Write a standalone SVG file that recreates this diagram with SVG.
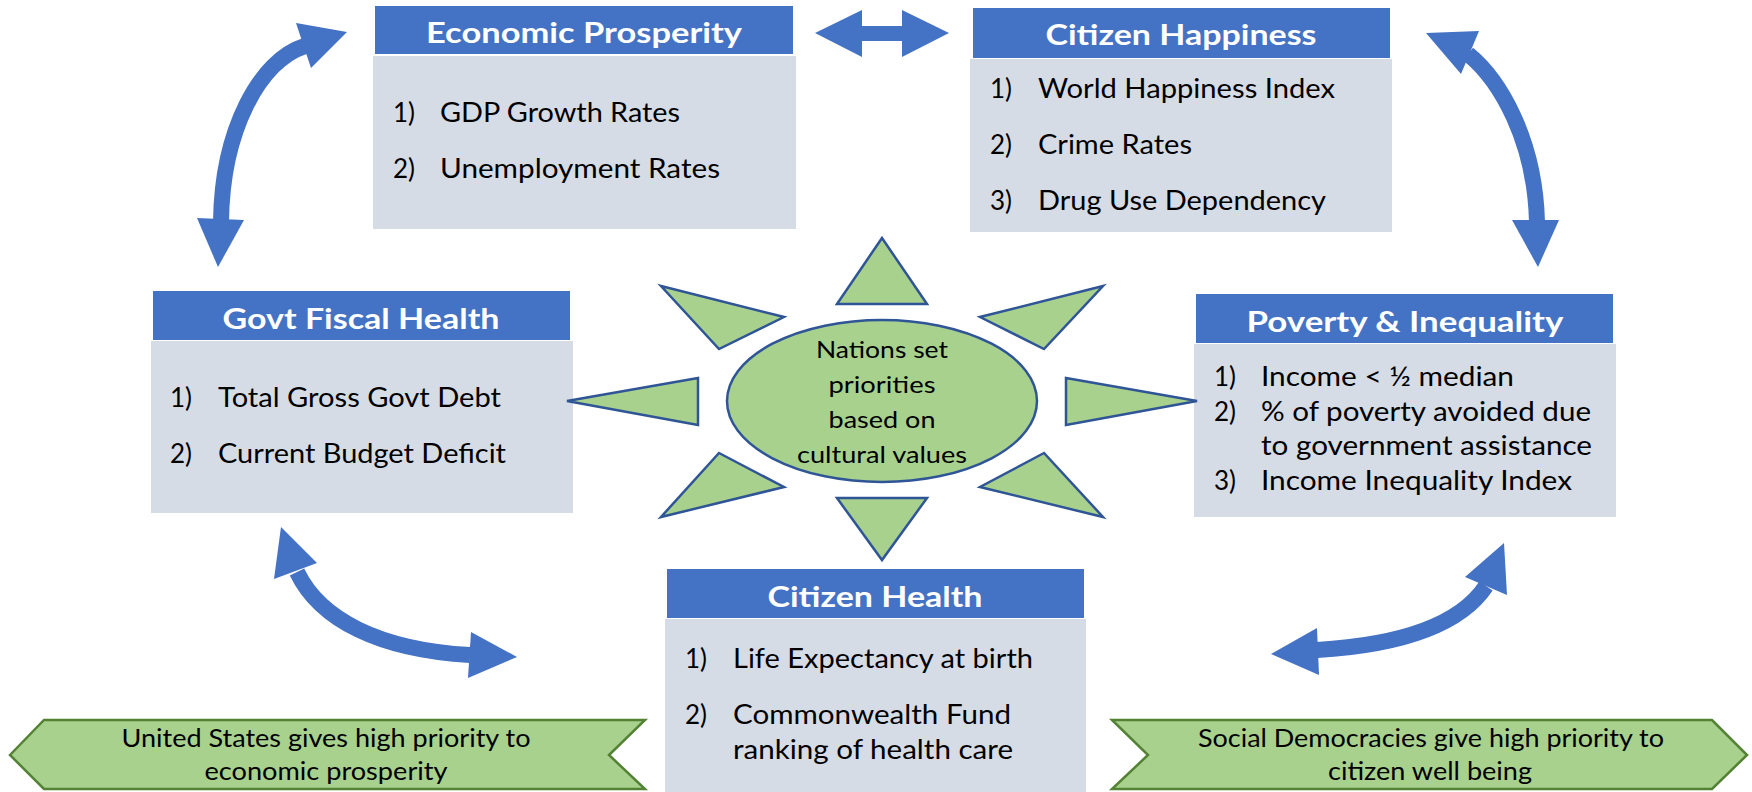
<svg xmlns="http://www.w3.org/2000/svg" width="1752" height="792" viewBox="0 0 1752 792">
<style>
.hdr{fill:#4472C4}
.body{fill:#D6DCE5}
.ht{font-family:Lato,"Liberation Sans",sans-serif;font-weight:bold;font-size:28px;fill:#fff;text-anchor:middle}
.it{font-family:Lato,"Liberation Sans",sans-serif;font-size:26px;fill:#000}
.ct{font-family:Lato,"Liberation Sans",sans-serif;font-size:24px;fill:#000;text-anchor:middle}
.bt{font-family:Lato,"Liberation Sans",sans-serif;font-size:25px;fill:#000;text-anchor:middle}
.ray{fill:#A9D18E;stroke:#2F5597;stroke-width:2.5;stroke-linejoin:miter}
.ban{fill:#A9D18E;stroke:#548235;stroke-width:2.5}
.shaft{fill:none;stroke:#4472C4;stroke-width:16}
.head{fill:#4472C4}
</style>
<rect width="1752" height="792" fill="#fff"/>

<g id="connectors">
  <polygon class="head" points="815,33 862,10 862,26 902,26 902,10 949,33 902,57 902,41 862,41 862,57"/>
  <path class="shaft" d="M305,46 C260,60 222,130 221,222"/>
  <polygon class="head" points="347,32 296,23 311,68"/>
  <polygon class="head" points="197,218 244,220 218,267"/>
  <path class="shaft" d="M1468,54 C1500,80 1535,140 1537,222"/>
  <polygon class="head" points="1426,33 1479,31 1461,74"/>
  <polygon class="head" points="1512,220 1559,220 1538,267"/>
  <path class="shaft" d="M297,572 C320,620 380,650 470,655"/>
  <polygon class="head" points="281,527 274,579 317,563"/>
  <polygon class="head" points="471,632 468,678 517,657"/>
  <path class="shaft" d="M1486,586 C1460,625 1400,645 1317,650"/>
  <polygon class="head" points="1504,543 1465,577 1507,595"/>
  <polygon class="head" points="1317,628 1319,675 1271,654"/>
</g>

<g id="economic-prosperity">
  <rect class="hdr" x="375" y="6" width="418" height="48"/>
  <rect class="body" x="373" y="56" width="423" height="173"/>
  <text class="ht" x="584" y="43" textLength="316" lengthAdjust="spacingAndGlyphs">Economic Prosperity</text>
  <text class="it" x="393" y="122">1)</text>
  <text class="it" x="440" y="122" textLength="240" lengthAdjust="spacingAndGlyphs">GDP Growth Rates</text>
  <text class="it" x="393" y="178">2)</text>
  <text class="it" x="440" y="178" textLength="280" lengthAdjust="spacingAndGlyphs">Unemployment Rates</text>
</g>

<g id="citizen-happiness">
  <rect class="hdr" x="973" y="8" width="417" height="50"/>
  <rect class="body" x="970" y="59" width="422" height="173"/>
  <text class="ht" x="1181" y="45" textLength="271" lengthAdjust="spacingAndGlyphs">Citizen Happiness</text>
  <text class="it" x="990" y="98">1)</text>
  <text class="it" x="1038" y="98" textLength="297" lengthAdjust="spacingAndGlyphs">World Happiness Index</text>
  <text class="it" x="990" y="154">2)</text>
  <text class="it" x="1038" y="154" textLength="154" lengthAdjust="spacingAndGlyphs">Crime Rates</text>
  <text class="it" x="990" y="210">3)</text>
  <text class="it" x="1038" y="210" textLength="288" lengthAdjust="spacingAndGlyphs">Drug Use Dependency</text>
</g>

<g id="govt-fiscal-health">
  <rect class="hdr" x="153" y="291" width="417" height="49"/>
  <rect class="body" x="151" y="341" width="422" height="172"/>
  <text class="ht" x="361" y="329" textLength="277" lengthAdjust="spacingAndGlyphs">Govt Fiscal Health</text>
  <text class="it" x="170" y="407">1)</text>
  <text class="it" x="218" y="407" textLength="283" lengthAdjust="spacingAndGlyphs">Total Gross Govt Debt</text>
  <text class="it" x="170" y="463">2)</text>
  <text class="it" x="218" y="463" textLength="288" lengthAdjust="spacingAndGlyphs">Current Budget Deficit</text>
</g>

<g id="poverty-inequality">
  <rect class="hdr" x="1196" y="294" width="417" height="49"/>
  <rect class="body" x="1194" y="344" width="422" height="173"/>
  <text class="ht" x="1405" y="332" textLength="317" lengthAdjust="spacingAndGlyphs">Poverty &amp; Inequality</text>
  <text class="it" x="1214" y="386">1)</text>
  <text class="it" x="1261" y="386" textLength="253" lengthAdjust="spacingAndGlyphs">Income &lt; ½ median</text>
  <text class="it" x="1214" y="421">2)</text>
  <text class="it" x="1261" y="421" textLength="330" lengthAdjust="spacingAndGlyphs">% of poverty avoided due</text>
  <text class="it" x="1261" y="455" textLength="331" lengthAdjust="spacingAndGlyphs">to government assistance</text>
  <text class="it" x="1214" y="490">3)</text>
  <text class="it" x="1261" y="490" textLength="311" lengthAdjust="spacingAndGlyphs">Income Inequality Index</text>
</g>

<g id="citizen-health">
  <rect class="hdr" x="667" y="569" width="417" height="49"/>
  <rect class="body" x="665" y="619" width="421" height="173"/>
  <text class="ht" x="875" y="607" textLength="215" lengthAdjust="spacingAndGlyphs">Citizen Health</text>
  <text class="it" x="685" y="668">1)</text>
  <text class="it" x="733" y="668" textLength="300" lengthAdjust="spacingAndGlyphs">Life Expectancy at birth</text>
  <text class="it" x="685" y="724">2)</text>
  <text class="it" x="733" y="724" textLength="278" lengthAdjust="spacingAndGlyphs">Commonwealth Fund</text>
  <text class="it" x="733" y="759" textLength="280" lengthAdjust="spacingAndGlyphs">ranking of health care</text>
</g>

<g id="nations-priorities">
  <polygon class="ray" points="882,238 837,304 927,304"/>
  <polygon class="ray" points="837,498 927,498 882,560"/>
  <polygon class="ray" points="567,401 698,378 698,425"/>
  <polygon class="ray" points="1066,378 1066,425 1197,401"/>
  <polygon class="ray" points="661,286 784,317 719,349"/>
  <polygon class="ray" points="1103,286 980,317 1044,349"/>
  <polygon class="ray" points="719,453 784,487 661,517"/>
  <polygon class="ray" points="1044,453 980,487 1103,517"/>
  <ellipse class="ray" cx="882" cy="401" rx="155" ry="81"/>
  <text class="ct" x="882" y="358" textLength="132" lengthAdjust="spacingAndGlyphs">Nations set</text>
  <text class="ct" x="882" y="393" textLength="107" lengthAdjust="spacingAndGlyphs">priorities</text>
  <text class="ct" x="882" y="428" textLength="107" lengthAdjust="spacingAndGlyphs">based on</text>
  <text class="ct" x="882" y="463" textLength="170" lengthAdjust="spacingAndGlyphs">cultural values</text>
</g>

<g id="us-banner">
  <polygon class="ban" points="10,755 44,720 645,720 609,755 645,789 44,789"/>
  <text class="bt" x="326" y="747" textLength="409" lengthAdjust="spacingAndGlyphs">United States gives high priority to</text>
  <text class="bt" x="326" y="780" textLength="243" lengthAdjust="spacingAndGlyphs">economic prosperity</text>
</g>

<g id="social-democracies-banner">
  <polygon class="ban" points="1112,720 1712,720 1747,755 1712,789 1112,789 1148,755"/>
  <text class="bt" x="1431" y="747" textLength="466" lengthAdjust="spacingAndGlyphs">Social Democracies give high priority to</text>
  <text class="bt" x="1430" y="780" textLength="204" lengthAdjust="spacingAndGlyphs">citizen well being</text>
</g>
</svg>
